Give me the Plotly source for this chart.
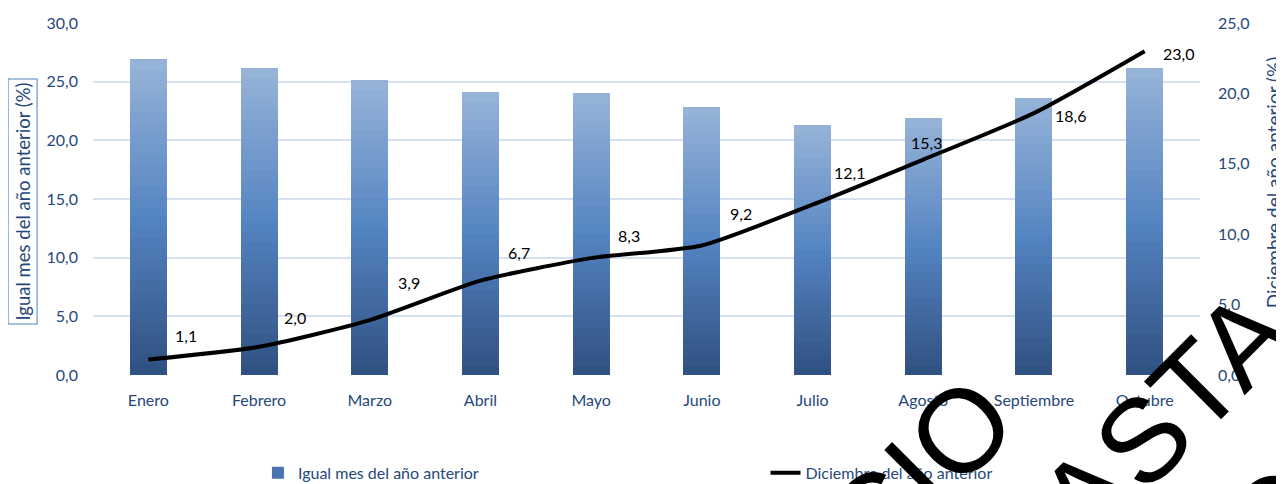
import plotly.graph_objects as go

# ---------------- data ----------------
months = ["Enero", "Febrero", "Marzo", "Abril", "Mayo", "Junio",
          "Julio", "Agosto", "Septiembre", "Octubre"]
igual_mes = [26.9, 26.2, 25.1, 24.1, 24.0, 22.8, 21.3, 21.9, 23.6, 26.2]
diciembre = [1.1, 2.0, 3.9, 6.7, 8.3, 9.2, 12.1, 15.3, 18.6, 23.0]
left_ticks = [0, 5, 10, 15, 20, 25, 30]
right_ticks = [0, 5, 10, 15, 20, 25]
bar_name = "Igual mes del año anterior"
line_name = "Diciembre del año anterior"
left_title = "Igual mes del año anterior (%)"
right_title = "Diciembre del año anterior (%)"

# ---------------- style ----------------
label_dx = [38, 36, 39, 39, 38, 39, 37, 3, 37, 34]
label_dy = [24, 29, 38, 28, 23, 32, 32, 17, -2, -2]
TXT = "#26487A"
FONT = "Lato"
GRID = "#D6E0F1"
stops = [(0.0, (47, 80, 128)), (0.5, (84, 132, 194)), (1.0, (151, 180, 216))]
N = 30


def grad(t):
    for (t0, c0), (t1, c1) in zip(stops[:-1], stops[1:]):
        if t <= t1:
            f = (t - t0) / (t1 - t0)
            return "rgb(%d,%d,%d)" % tuple(round(a + (b - a) * f) for a, b in zip(c0, c1))
    return "rgb(%d,%d,%d)" % stops[-1][1]


fig = go.Figure()

# gradient bars: each bar split into N stacked slices of its own value
for k in range(N):
    fig.add_trace(go.Bar(
        x=months, y=[v / N for v in igual_mes],
        marker=dict(color=grad((k + 0.5) / N), line=dict(width=0)),
        name=bar_name, showlegend=(k == N // 3), legendgroup="bars", legend="legend",
        hoverinfo="skip", yaxis="y"))

fig.add_trace(go.Scatter(
    x=months, y=diciembre, mode="lines", name=line_name, yaxis="y2", legend="legend2",
    line=dict(color="black", width=4, shape="spline", smoothing=0.6)))

ann = []
for m, v, dx, dy in zip(months, diciembre, label_dx, label_dy):
    ann.append(dict(x=m, y=v, xref="x", yref="y2", text=f"{v:.1f}".replace(".", ","),
                    showarrow=False, xshift=dx, yshift=dy,
                    font=dict(family=FONT, size=16, color="black")))

# axis titles
ann.append(dict(x=-0.0632, y=0.493, xref="paper", yref="paper", text=left_title,
                textangle=-90, showarrow=False, xanchor="center", yanchor="middle",
                font=dict(family=FONT, size=18.5, color=TXT),
                bordercolor="#4F81BD", borderwidth=1, borderpad=3))
ann.append(dict(x=1.066, y=0.548, xref="paper", yref="paper", text=right_title,
                textangle=-90, showarrow=False, xanchor="center", yanchor="middle",
                font=dict(family=FONT, size=19, color=TXT)))

# watermark
for txt, px, py in [("CIO", 0.7462, -0.2756), ("ASTA", 0.9684, -0.118), ("O", 1.0678, -0.406)]:
    ann.append(dict(x=px, y=py, xref="paper", yref="paper", text=txt, textangle=-45,
                    showarrow=False, xanchor="center", yanchor="middle",
                    font=dict(family="Liberation Sans", size=118, color="black")))

legend_style = dict(orientation="h", yanchor="middle", xanchor="left",
                    font=dict(family=FONT, size=16, color=TXT),
                    bgcolor="rgba(0,0,0,0)", borderwidth=0)

fig.update_layout(
    width=1284, height=484, autosize=False,
    margin=dict(l=85, r=92, t=15, b=117, autoexpand=False),
    paper_bgcolor="white", plot_bgcolor="white",
    separators=",.",
    barmode="stack", bargap=0.666,
    font=dict(family=FONT, size=16, color=TXT),
    xaxis=dict(showgrid=False, showline=False, ticks="", ticklabelstandoff=14,
               tickfont=dict(family=FONT, size=16, color=TXT)),
    yaxis=dict(range=[0, 30], tickvals=left_ticks, tickformat=".1f",
               showgrid=True, gridcolor=GRID, gridwidth=2, zeroline=False,
               showline=False, ticks="", ticklabelstandoff=14,
               tickfont=dict(family=FONT, size=16, color=TXT)),
    yaxis2=dict(range=[0, 25], tickvals=right_ticks, tickformat=".1f",
                overlaying="y", side="right", showgrid=False, zeroline=False,
                showline=False, ticks="", ticklabelstandoff=17,
                tickfont=dict(family=FONT, size=16, color=TXT)),
    legend=dict(x=0.149, y=-0.278, **legend_style),
    legend2=dict(x=0.6075, y=-0.278, **legend_style),
    annotations=ann,
)

fig.write_html("out.html")
